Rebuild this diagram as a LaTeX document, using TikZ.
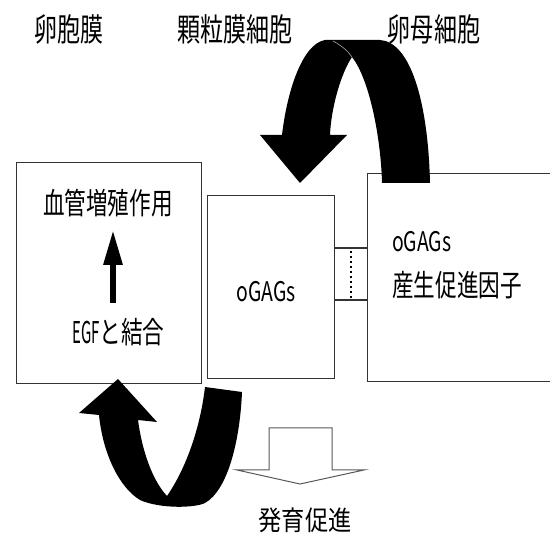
\documentclass[tikz,border=0pt]{standalone}
\usepackage{fontspec}
\usetikzlibrary{arrows.meta}
\newfontfamily\jp[FakeStretch=0.72]{Noto Sans CJK JP}
\newfontfamily\jpw[FakeStretch=0.86]{Noto Sans CJK JP}
\newfontfamily\lat[FakeStretch=0.72]{Noto Sans CJK JP}
\newfontfamily\latn[FakeStretch=0.5]{Noto Sans CJK JP}
\definecolor{boxline}{HTML}{333333}
\tikzset{
  cellbox/.style={draw=boxline, line width=1.3pt, fill=white, inner sep=0pt, anchor=north west},
  toplabel/.style={inner sep=0pt, font=\jp\fontsize{32}{32}\selectfont},
  boxlabel/.style={inner sep=0pt, font=\jp\fontsize{30}{30}\selectfont},
  gaglabel/.style={inner sep=0pt, font=\lat\fontsize{27}{27}\selectfont},
  bigarrow/.style={fill=black, draw=none},
  link/.style={draw=boxline, line width=1.3pt},
}
\begin{document}
\begin{tikzpicture}[x=1pt,y=-1pt]
\useasboundingbox (0,0) rectangle (550,540);
% boxes
\node[cellbox, minimum width=185pt, minimum height=221pt] (left) at (16,162) {};
\node[cellbox, minimum width=127pt, minimum height=183pt] (mid) at (207,195) {};
\node[cellbox, minimum width=200pt, minimum height=208pt] (right) at (367,173) {};
% top labels
\node[toplabel] (l1) at (69,29) {卵胞膜};
\node[toplabel] (l2) at (235,29) {顆粒膜細胞};
\node[toplabel] (l3) at (434,29) {卵母細胞};
% left box content
\node[boxlabel] (vas) at (108,203) {血管増殖作用};
\node[boxlabel, anchor=west] (egf) at (72,332) {{\latn EGF}と結合};
\coordinate (a1) at (113,303);
\coordinate (a2) at (113,230);
\draw[line width=6pt, -{Triangle[width=18pt,length=35pt]}] (a1) -- (a2);
% middle box
\node[gaglabel] (g1) at (266,292) {oGAGs};
% right box
\node[gaglabel, anchor=west] (g2) at (392,242) {oGAGs};
\node[boxlabel, anchor=west] (fac) at (392,285) {産生促進因子};
% connectors
\coordinate (h1) at (0,248);
\coordinate (h2) at (0,300);
\draw[link] (mid.east |- h1) -- (right.west |- h1);
\draw[link] (mid.east |- h2) -- (right.west |- h2);
\coordinate (d1) at (351,251);
\coordinate (d2) at (351,298);
\draw[line width=1.6pt, dash pattern=on 2.5pt off 2.5pt] (d1) -- (d2);
% top curved arrow
\fill[bigarrow] (300,183) -- (260,135) -- (282,135)
  .. controls (287,92) and (302,44) .. (325,40) -- (380,40)
  .. controls (410,42) and (428,100) .. (430,183) -- (382,183)
  .. controls (381,140) and (370,80) .. (352,57)
  .. controls (340,75) and (331,110) .. (330,135) -- (347,135) -- cycle;
\draw[gray!70, line width=0.6pt] (333,41) .. controls (342,46) and (348,51) .. (352,57);
% bottom curved arrow
\fill[bigarrow] (118,379) -- (157,422) -- (138,420)
  .. controls (142,450) and (152,480) .. (167,496)
  .. controls (185,470) and (200,430) .. (205,387) -- (242,392)
  .. controls (240,440) and (228,490) .. (205,503)
  .. controls (195,508) and (160,509) .. (140,500)
  .. controls (120,488) and (103,455) .. (99,415) -- (79,413) -- cycle;
% hollow arrow
\draw[draw=gray!70!black, line width=1pt, fill=white, line join=miter]
  (269,428) -- (332,428) -- (332,470) -- (364,470) -- (300,484) -- (237,470) -- (269,470) -- cycle;
\node[inner sep=0pt, font=\jpw\fontsize{27}{27}\selectfont] (dev) at (305,520) {発育促進};
\end{tikzpicture}
\end{document}
